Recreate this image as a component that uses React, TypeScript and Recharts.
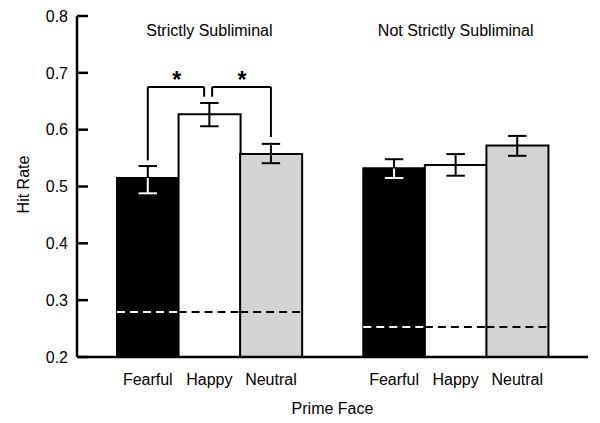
import { ComposedChart, Bar, Cell, XAxis, YAxis, ReferenceLine, ReferenceDot } from "recharts"

// values (hit rate per prime face, two subliminality groups)
const categories = ["Fearful", "Happy", "Neutral", "", "Fearful", "Happy", "Neutral"]
const hitRate = [0.515, 0.627, 0.557, null, 0.532, 0.538, 0.572]
const errLow = [0.488, 0.606, 0.541, null, 0.515, 0.519, 0.554]
const errHigh = [0.536, 0.647, 0.575, null, 0.548, 0.557, 0.589]
const chance = [0.279, 0.279, 0.279, null, 0.253, 0.253, 0.253]
const yTicks = [0.2, 0.3, 0.4, 0.5, 0.6, 0.7, 0.8]

const groupTitles = ["Strictly Subliminal", "Not Strictly Subliminal"]
const groupCenters = [1, 5]
const titleY = 0.775

// significance brackets (x in category index units)
const bracketTop = 0.675
const bracketX = [[0, 0.915], [1.045, 2]]
const bracketEnds = [[0.546, 0.658], [0.658, 0.587]]
const starX = [0.47, 1.53]
const starY = 0.692

const fills = ["#000000", "#ffffff", "#d4d4d4", "none", "#000000", "#ffffff", "#d4d4d4"]
const font = "'Liberation Sans', Arial, Helvetica, sans-serif"
const capHalf = 0.15

const data = categories.map((name, i) => ({ name, idx: i, rate: hitRate[i] }))

const YTick = (props: any) => {
  const { x, y, payload } = props
  return (
    <g>
      <line x1={x + 9} x2={x + 20} y1={y} y2={y} stroke="#000" strokeWidth={2.5} />
      <text x={x} y={y} dy="0.36em" textAnchor="end" fontSize={16} fill="#000" fontFamily={font}>
        {payload.value.toFixed(1)}
      </text>
    </g>
  )
}

const seg = (key: string, x1: number, y1: number, x2: number, y2: number, color = "#000", dash?: string) => (
  <ReferenceLine
    key={key}
    xAxisId="num"
    segment={[{ x: x1, y: y1 }, { x: x2, y: y2 }]}
    stroke={color}
    strokeWidth={2}
    strokeDasharray={dash}
  />
)

export default function App() {
  const lines: any[] = []

  hitRate.forEach((v, i) => {
    if (v == null) return
    const lowColor = fills[i] === "#000000" ? "#ffffff" : "#000000"
    const lo = errLow[i] as number
    const hi = errHigh[i] as number
    const c = chance[i] as number
    lines.push(seg(`ch${i}`, i - 0.5, c, i + 0.5, c, lowColor, "8 5"))
    lines.push(seg(`el${i}`, i, lo, i, v, lowColor))
    lines.push(seg(`elc${i}`, i - capHalf, lo, i + capHalf, lo, lowColor))
    lines.push(seg(`eh${i}`, i, v, i, hi))
    lines.push(seg(`ehc${i}`, i - capHalf, hi, i + capHalf, hi))
  })

  bracketX.forEach(([a, b], k) => {
    const [ya, yb] = bracketEnds[k]
    lines.push(seg(`ba${k}`, a, ya, a, bracketTop))
    lines.push(seg(`bt${k}`, a, bracketTop, b, bracketTop))
    lines.push(seg(`bb${k}`, b, bracketTop, b, yb))
  })

  return (
    <div style={{ position: "absolute", left: 0, top: 0, fontFamily: font }}>
      <ComposedChart
        width={600}
        height={423}
        data={data}
        margin={{ top: 16, right: 12, bottom: 0, left: 0 }}
        barCategoryGap={0}
        style={{ fontFamily: font }}
      >
        <XAxis
          dataKey="name"
          height={66}
          padding={{ left: 40, right: 40 }}
          interval={0}
          tickLine={false}
          tickSize={0}
          tickMargin={17}
          tick={{ fill: "#000", fontSize: 16 }}
          axisLine={{ stroke: "#000", strokeWidth: 2.5 }}
          label={{ value: "Prime Face", position: "insideBottom", offset: 9, fill: "#000", fontSize: 16 }}
        />
        <XAxis
          xAxisId="num"
          type="number"
          dataKey="idx"
          domain={[-0.5, 6.5]}
          allowDataOverflow
          padding={{ left: 40, right: 40 }}
          hide
        />
        <XAxis
          xAxisId="top"
          orientation="top"
          dataKey="name"
          height={0}
          tick={false}
          tickLine={false}
          axisLine={{ stroke: "#000", strokeWidth: 2.5 }}
        />
        <YAxis
          width={77}
          domain={[0.2, 0.8]}
          ticks={yTicks}
          allowDataOverflow
          tickLine={false}
          tickSize={0}
          tickMargin={9}
          tick={<YTick />}
          axisLine={{ stroke: "#000", strokeWidth: 2.5 }}
          label={{
            content: (p: any) => {
              const cy = p.viewBox.y + p.viewBox.height / 2 - 2
              return (
                <text x={23} y={cy} transform={`rotate(-90 23 ${cy})`} textAnchor="middle" dy="0.36em" fontSize={16} fill="#000" fontFamily={font}>
                  Hit Rate
                </text>
              )
            },
          }}
        />
        <YAxis
          yAxisId="r"
          orientation="right"
          width={0}
          domain={[0.2, 0.8]}
          tick={false}
          tickLine={false}
          axisLine={{ stroke: "#000", strokeWidth: 2.5 }}
        />
        <Bar dataKey="rate" isAnimationActive={false}>
          {data.map((d, i) => (
            <Cell key={i} fill={fills[i]} stroke={d.rate == null ? "none" : "#000"} strokeWidth={2} />
          ))}
        </Bar>
        {lines}
        {groupTitles.map((t, k) => (
          <ReferenceDot
            key={`t${k}`}
            xAxisId="num"
            x={groupCenters[k]}
            y={titleY}
            r={0}
            shape={(p: any) => (
              <text x={p.cx} y={p.cy} dy="0.35em" textAnchor="middle" fontSize={16} fill="#000" fontFamily={font}>
                {t}
              </text>
            )}
          />
        ))}
        {starX.map((sx, k) => (
          <ReferenceDot
            key={`s${k}`}
            xAxisId="num"
            x={sx}
            y={starY}
            r={0}
            shape={(p: any) => (
              <text x={p.cx} y={p.cy} dy="0.45em" textAnchor="middle" fontSize={23} fontWeight="bold" fill="#000" fontFamily={font}>
                *
              </text>
            )}
          />
        ))}
      </ComposedChart>
    </div>
  )
}
